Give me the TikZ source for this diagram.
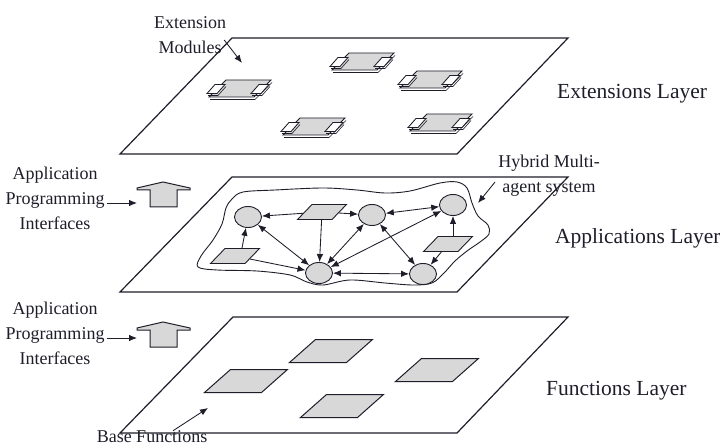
\documentclass[tikz,border=0pt]{standalone}
\usepackage{fontspec}
\setmainfont{Liberation Serif}
\usetikzlibrary{arrows.meta,shapes.geometric}

\definecolor{ink}{RGB}{30,30,42}
\definecolor{shade}{RGB}{216,216,216}

\tikzset{
  plane/.style={draw=ink, line width=1.2pt, line join=miter},
  agent/.style={ellipse, draw=ink, line width=0.9pt, fill=shade,
    minimum width=27pt, minimum height=21pt, inner sep=0pt},
  resource/.style={trapezium, trapezium left angle=54, trapezium right angle=126,
    trapezium stretches=true, draw=ink, line width=0.9pt, fill=shade,
    minimum width=49pt, minimum height=15pt, inner sep=1pt},
  basefn/.style={trapezium, trapezium left angle=50, trapezium right angle=130,
    trapezium stretches=true, draw=ink, line width=1pt, fill=shade,
    minimum width=83pt, minimum height=23pt, inner sep=1pt},
  tip/.tip={Latex[length=8pt,width=6.5pt]},
  link/.style={draw=ink, line width=0.85pt, -tip},
  bilink/.style={draw=ink, line width=0.85pt, tip-tip},
  pointer/.style={draw=ink, line width=0.85pt, -tip},
  layerlabel/.style={font=\fontsize{21.5}{24}\selectfont, text=ink,
    inner sep=0pt, anchor=west},
  note/.style={font=\fontsize{18}{25}\selectfont, text=ink, align=center,
    inner sep=0pt},
  % extension module: shaded slab with two connector tabs and a thin shadow
  pics/extmod/.style={code={
    \draw[ink, line width=0.7pt]
      (-30,10.5) -- (15,10.5) -- (32,-6.5);
    \draw[ink, line width=0.85pt, fill=shade]
      (-14,-9) -- (31,-9) -- (14,8) -- (-31,8) -- cycle;
    \foreach \c in {-24,20}{
      \draw[ink, line width=0.6pt]
        (\c-8,6.5) -- (\c+2,6.5) -- (\c+10,-2.5);
      \draw[ink, line width=0.85pt, fill=white]
        (\c-1,-4.5) -- (\c+9,-4.5) -- (\c+1,4.5) -- (\c-9,4.5) -- cycle;
    }
  }},
  % block arrow pointing up between layers
  pics/apiarrow/.style={code={
    \draw[ink, line width=1pt, fill=shade, line join=miter]
      (-13,17) -- (-13,0) -- (-26,0) -- (-26,-2) -- (0,-8) -- (27,-2)
      -- (27,0) -- (14,0) -- (14,17) -- cycle;
  }},
}

\begin{document}
\begin{tikzpicture}[x=1pt,y=-1pt]
\useasboundingbox (0,0) rectangle (720,446);

% ---------- Extensions layer ----------
\draw[plane, fill=white] (120,154) -- (457,154) -- (568,38) -- (232,38) -- cycle;
\pic at (240,89)  {extmod};
\pic at (363,62)  {extmod};
\pic at (431,80)  {extmod};
\pic at (314,127) {extmod};
\pic at (441,123) {extmod};

\node[note] (extlabel) at (190,35) {Extension\\Modules};
\coordinate (exttip) at (242,63);
\draw[pointer] ([shift={(-2pt,-5pt)}]extlabel.east) -- (exttip);

\node[layerlabel] (extlayer) at (557,94) {Extensions Layer};

% ---------- Applications layer ----------
\draw[plane, fill=white] (120,292) -- (457,292) -- (568,177) -- (232,177) -- cycle;

% boundary of the hybrid multi-agent system
\draw[ink, line width=0.9pt] plot[smooth cycle, tension=0.55] coordinates {
  (232,199) (243,192) (275,190) (323,188) (357,190) (385,193) (410,191)
  (440,183) (457,182) (467,188) (472,203) (478,216) (488,225) (489,234)
  (480,242) (467,251) (455,261) (444,273) (432,283) (413,285) (385,283)
  (350,280) (323,285) (307,282) (290,275) (257,271) (217,270) (198,267)
  (201,256) (213,240) (222,224) (226,208)};

\node[agent] (a1) at (248,217) {};
\node[agent] (a2) at (372,215) {};
\node[agent] (a3) at (453,205) {};
\node[agent] (a4) at (319,273) {};
\node[agent] (a5) at (423,274) {};

\node[resource] (p1) at (322,212) {};
\node[resource] (p2) at (235,256) {};
\node[resource] (p3) at (448,244) {};

\draw[link] (p1) -- (a1);
\draw[link] (p1) -- (a2);
\draw[link] (p1) -- (a4);
\draw[link] ([xshift=7pt]p2.north) -- (a1);
\draw[link] (p2) -- (a4);
\draw[link] ([xshift=5pt]p3.north) -- (a3);
\draw[link] (p3) -- (a5);
\draw[bilink] (a1) -- (a4);
\draw[bilink] (a2) -- (a4);
\draw[bilink] (a3) -- (a4);
\draw[bilink] (a2) -- (a3);
\draw[bilink] (a2) -- (a5);
\draw[bilink] (a4) -- (a5);

\node[note] (hybrid) at (549,176) {Hybrid Multi-\\agent system};
\coordinate (hybtip) at (478,203);
\draw[pointer] ([shift={(-3pt,-6pt)}]hybrid.west) -- (hybtip);

\node[layerlabel] (applayer) at (555,238) {Applications Layer};

% ---------- Functions layer ----------
\draw[plane, fill=white] (120,433) -- (457,433) -- (568,317) -- (233,317) -- cycle;

\node[basefn] (f1) at (246,381) {};
\node[basefn] (f2) at (331,351) {};
\node[basefn] (f3) at (437,370) {};
\node[basefn] (f4) at (342,406) {};

\node[note] (bflabel) at (152,437) {Base Functions};
\coordinate (bftip) at (208,408);
\draw[pointer] ([xshift=21pt]bflabel.north) -- (bftip);

\node[layerlabel] (funlayer) at (546,391) {Functions Layer};

% ---------- interfaces between layers ----------
\pic at (163,190) {apiarrow};
\pic at (163,330) {apiarrow};

\node[note] (api1) at (55,198) {Application\\Programming\\Interfaces};
\node[note] (api2) at (55,333) {Application\\Programming\\Interfaces};
\coordinate (apitip1) at (137,203);
\coordinate (apitip2) at (137,338);
\draw[pointer] ([xshift=2pt]api1.east |- apitip1) -- (apitip1);
\draw[pointer] ([xshift=2pt]api2.east |- apitip2) -- (apitip2);
\end{tikzpicture}
\end{document}
